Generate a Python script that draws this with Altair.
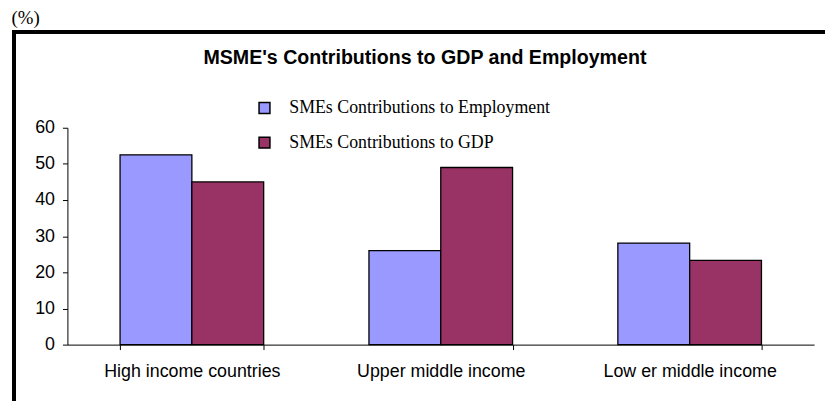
import altair as alt
import pandas as pd

title_text = "MSME's Contributions to GDP and Employment"
categories = ["High income countries", "Upper middle income", "Low er middle income"]
series = ["SMEs Contributions to Employment", "SMEs Contributions to GDP"]
employment = [52.5, 26.0, 28.1]
gdp = [45.0, 49.0, 23.3]
y_ticks = [0, 10, 20, 30, 40, 50, 60]
colors = ["#9999FF", "#993366"]

rows = []
for c, e, g in zip(categories, employment, gdp):
    rows.append({"category": c, "series": series[0], "value": e})
    rows.append({"category": c, "series": series[1], "value": g})
df = pd.DataFrame(rows)

bars = alt.Chart(df).mark_bar(stroke="black", strokeWidth=1.3).encode(
    x=alt.X(
        "category:N",
        sort=categories,
        scale=alt.Scale(paddingInner=0.423, paddingOuter=0.2115),
        axis=alt.Axis(
            title=None, labelAngle=0, tickBand="extent", tickSize=5,
            labelFont="Liberation Sans", labelFontSize=18, labelColor="black",
            labelPadding=13, domainColor="black", tickColor="black",
        ),
    ),
    xOffset=alt.XOffset("series:N", sort=series),
    y=alt.Y(
        "value:Q",
        scale=alt.Scale(domain=[0, 60], nice=False),
        axis=alt.Axis(
            values=y_ticks, grid=False, tickSize=5, labelPadding=8,
            labelFont="Liberation Sans", labelFontSize=18, labelColor="black",
            domainColor="black", tickColor="black",
            title="(%)", titleAngle=0, titleAlign="left", titleBaseline="middle",
            titleX=-57, titleY=-111, titleFont="Liberation Serif",
            titleFontSize=19, titleFontWeight="normal", titleColor="black",
        ),
    ),
    color=alt.Color(
        "series:N",
        sort=series,
        scale=alt.Scale(domain=series, range=colors),
        legend=alt.Legend(
            title=None, orient="none", legendX=190, legendY=-29,
            symbolType="square", symbolSize=121, symbolStrokeColor="black",
            symbolStrokeWidth=1.5, symbolOpacity=1,
            labelFont="Liberation Serif", labelFontSize=18, labelColor="black",
            labelOffset=16, rowPadding=17, padding=0, labelLimit=400,
        ),
    ),
)

frame = alt.Chart(df).mark_rect(fill=None, stroke="black", strokeWidth=3.5).encode(
    x=alt.value(-54), x2=alt.value(790), y=alt.value(-97), y2=alt.value(330)
)

title = alt.Chart(pd.DataFrame({"t": [title_text]})).mark_text(
    font="Liberation Sans", fontSize=19.8, fontWeight="bold", color="black",
    align="center", baseline="middle",
).encode(text="t:N", x=alt.value(361), y=alt.value(-70))

chart = alt.layer(frame, bars, title).properties(
    width=754,
    height=219,
    autosize=alt.AutoSizeParams(type="none"),
    padding={"left": 60, "top": 119, "right": 11, "bottom": 55},
).configure_view(stroke=None)

chart.save("out.html", embed_options={"renderer": "svg", "actions": False})
